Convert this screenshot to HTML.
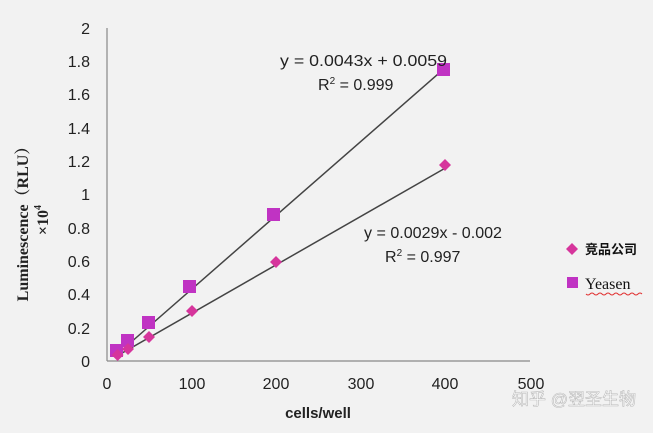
<!DOCTYPE html><html><head><meta charset="utf-8"><style>body{margin:0;background:#f2f2f2}</style></head><body>
<svg width="653" height="428" xmlns="http://www.w3.org/2000/svg" font-family="Liberation Sans, sans-serif">
<rect width="653" height="428" fill="#f2f2f2"/>
<g stroke="#888" stroke-width="1.2"><line x1="107" y1="28" x2="107" y2="361"/><line x1="107" y1="361" x2="530" y2="361"/></g>
<g font-size="16" fill="#222" text-anchor="end">
<text x="90" y="34">2</text><text x="90" y="67">1.8</text><text x="90" y="100">1.6</text><text x="90" y="134">1.4</text><text x="90" y="167">1.2</text><text x="90" y="200">1</text><text x="90" y="234">0.8</text><text x="90" y="267">0.6</text><text x="90" y="300">0.4</text><text x="90" y="334">0.2</text><text x="90" y="367">0</text></g>
<g font-size="16" fill="#222" text-anchor="middle">
<text x="107" y="389">0</text><text x="192" y="389">100</text><text x="276" y="389">200</text><text x="361" y="389">300</text><text x="445" y="389">400</text><text x="531" y="389">500</text></g>
<text x="318" y="418" font-size="15" font-weight="bold" text-anchor="middle" fill="#222">cells/well</text>
<g transform="translate(28,220) rotate(-90)" font-family="Liberation Serif, Noto Serif CJK SC, serif" font-weight="bold" font-size="16" fill="#222" text-anchor="middle"><text x="0" y="0">Luminescence（RLU）</text><text x="0" y="20">×10<tspan font-size="10" dy="-7">4</tspan></text></g>
<g stroke="#444" stroke-width="1.5"><line x1="117.6" y1="353.9" x2="445.4" y2="67.6"/><line x1="117.6" y1="355.6" x2="445.4" y2="168"/></g>
<g fill="#c033c3">
<rect x="110" y="344" width="13" height="13"/><rect x="121" y="334" width="13" height="13"/><rect x="142" y="316" width="13" height="13"/><rect x="183" y="280" width="13" height="13"/><rect x="267" y="208" width="13" height="13"/><rect x="437" y="63" width="13" height="13"/></g>
<g fill="#d6359c">
<path d="M117.6 349l6 6-6 6-6-6z"/><path d="M128 343l6 6-6 6-6-6z"/><path d="M149 331l6 6-6 6-6-6z"/><path d="M192 305l6 6-6 6-6-6z"/><path d="M276 256l6 6-6 6-6-6z"/><path d="M445 159l6 6-6 6-6-6z"/></g>
<g font-size="16" fill="#222">
<text x="280" y="66" textLength="167" lengthAdjust="spacingAndGlyphs">y = 0.0043x + 0.0059</text>
<text x="318" y="90">R<tspan font-size="10" dy="-6">2</tspan><tspan dy="6"> = 0.999</tspan></text>
<text x="364" y="238" textLength="138" lengthAdjust="spacingAndGlyphs">y = 0.0029x - 0.002</text>
<text x="385" y="262">R<tspan font-size="10" dy="-6">2</tspan><tspan dy="6"> = 0.997</tspan></text></g>
<path d="M572 243l6 6-6 6-6-6z" fill="#d6359c"/>
<text x="585" y="254" font-size="13" font-weight="bold" font-family="Liberation Sans, Noto Sans CJK SC, sans-serif" fill="#111">竞品公司</text>
<rect x="567" y="277" width="11" height="11" fill="#c033c3"/>
<text x="585" y="289" font-size="16" font-family="Liberation Serif, serif" fill="#111">Yeasen</text>
<path d="M586 294q2 2 4 0t4 0t4 0t4 0t4 0t4 0t4 0t4 0t4 0t4 0t4 0t4 0t4 0t4 0" stroke="#e03030" fill="none" stroke-width="1"/>
<text x="512" y="405" font-size="17" font-family="Liberation Sans, Noto Sans CJK SC, sans-serif" fill="#fff" stroke="#bbb" stroke-width="0.6">知乎 @翌圣生物</text>
</svg></body></html>
